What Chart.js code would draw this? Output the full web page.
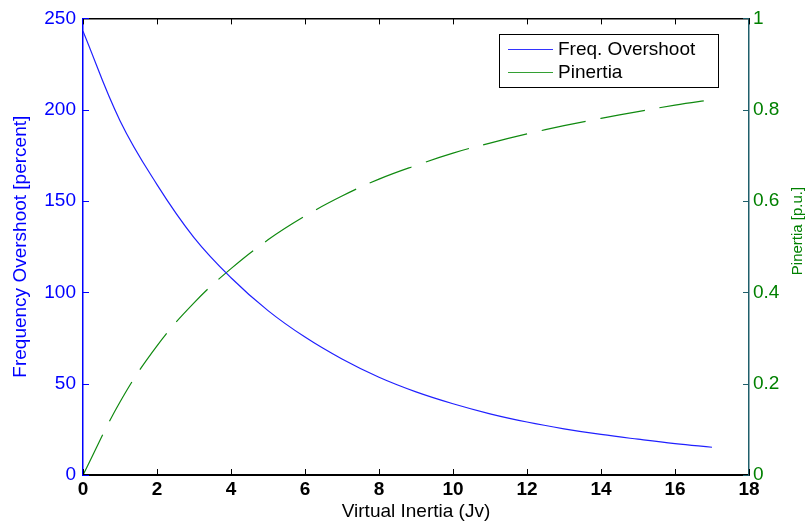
<!DOCTYPE html>
<html>
<head>
<meta charset="utf-8">
<script src="https://cdn.jsdelivr.net/npm/chart.js@4.4.1/dist/chart.umd.min.js"></script>
<style>
  html, body { margin: 0; padding: 0; background: #fff; }
  #wrap { width: 807px; height: 525px; }
</style>
</head>
<body>
<div id="wrap"><canvas id="jvChart"></canvas></div>
<script>
// values
const inertiaJv = [0, 1, 2, 3, 4, 5, 6, 7, 8, 9, 10, 11, 12, 13, 14, 15, 16, 17];
const freqOvershoot = [243, 194, 159, 130, 108, 90, 75.5, 63.5, 53.5, 45.5, 39, 33.5, 29, 25.3, 22.2, 19.6, 17.2, 15.2];
const pInertia = [0, 0.16, 0.283, 0.377, 0.452, 0.515, 0.567, 0.611, 0.648, 0.678, 0.705, 0.727, 0.747, 0.765, 0.781, 0.796, 0.81, 0.822];

const xTicks = ['0', '2', '4', '6', '8', '10', '12', '14', '16', '18'];
const leftTicks = ['0', '50', '100', '150', '200', '250'];
const rightTicks = ['0', '0.2', '0.4', '0.6', '0.8', '1'];
const rightTitle = 'Pinertia [p.u.]';

const FONT = "'Liberation Sans', Arial, sans-serif";
const BLUE = '#0000ff';
const GREEN = '#008000';
const TEAL = '#1f5f6b';

// MATLAB style ticks pointing into the plot
const innerTicks = {
    id: 'innerTicks',
    afterDatasetsDraw(chart) {
        const ctx = chart.ctx;
        const a = chart.chartArea;
        const len = 6;
        ctx.save();
        ctx.lineWidth = 1;
        const xs = chart.scales.x;
        ctx.strokeStyle = '#000';
        xs.ticks.forEach(t => {
            const px = Math.round(xs.getPixelForValue(t.value)) + 0.5;
            ctx.beginPath();
            ctx.moveTo(px, a.bottom); ctx.lineTo(px, a.bottom - len);
            ctx.moveTo(px, a.top); ctx.lineTo(px, a.top + len);
            ctx.stroke();
        });
        const ys = chart.scales.y;
        ctx.strokeStyle = BLUE;
        ys.ticks.forEach(t => {
            const py = Math.round(ys.getPixelForValue(t.value)) + 0.5;
            ctx.beginPath();
            ctx.moveTo(a.left, py); ctx.lineTo(a.left + len, py);
            ctx.stroke();
        });
        const y1 = chart.scales.y1;
        ctx.strokeStyle = TEAL;
        y1.ticks.forEach(t => {
            const py = Math.round(y1.getPixelForValue(t.value)) + 0.5;
            ctx.beginPath();
            ctx.moveTo(a.right, py); ctx.lineTo(a.right - len, py);
            ctx.stroke();
        });
        ctx.restore();
    }
};

// right axis title reads bottom-to-top like the left one
const rightAxisTitle = {
    id: 'rightAxisTitle',
    afterDraw(chart) {
        const ctx = chart.ctx;
        ctx.save();
        ctx.translate(798, 231);
        ctx.rotate(-Math.PI / 2);
        ctx.font = '15px ' + FONT;
        ctx.fillStyle = GREEN;
        ctx.textAlign = 'center';
        ctx.textBaseline = 'middle';
        ctx.fillText(rightTitle, 0, 0);
        ctx.restore();
    }
};

// boxed legend inside the plot, top right
const boxLegend = {
    id: 'boxLegend',
    afterDraw(chart) {
        const ctx = chart.ctx;
        const bx = 499, by = 34, bw = 219, bh = 53;
        ctx.save();
        ctx.fillStyle = '#fff';
        ctx.fillRect(bx, by, bw, bh);
        ctx.strokeStyle = '#000';
        ctx.lineWidth = 1;
        ctx.strokeRect(bx + 0.5, by + 0.5, bw, bh);
        ctx.font = '19px ' + FONT;
        ctx.textBaseline = 'middle';
        ctx.fillStyle = '#000';
        const rows = [49, 72];
        const sample = ['#3333ff', '#33a033'];
        chart.data.datasets.forEach((ds, i) => {
            const y = rows[i] + 0.5;
            ctx.strokeStyle = sample[i];
            ctx.beginPath();
            ctx.moveTo(508, y); ctx.lineTo(553, y);
            ctx.stroke();
            ctx.fillText(ds.label, 558, rows[i] + 1);
        });
        ctx.restore();
    }
};

const ctx = document.getElementById('jvChart').getContext('2d');
new Chart(ctx, {
    type: 'line',
    data: {
        datasets: [{
            label: 'Freq. Overshoot',
            data: inertiaJv.map((x, i) => ({x: x, y: freqOvershoot[i]})),
            borderColor: '#2020ff',
            borderWidth: 1.2,
            pointRadius: 0,
            tension: 0.4,
            yAxisID: 'y'
        }, {
            label: 'Pinertia',
            data: inertiaJv.map((x, i) => ({x: x, y: pInertia[i]})),
            borderColor: '#108a10',
            borderWidth: 1.2,
            borderDash: [45, 15],
            pointRadius: 0,
            tension: 0.4,
            yAxisID: 'y1'
        }]
    },
    options: {
        responsive: true,
        maintainAspectRatio: false,
        animation: false,
        layout: { padding: 0 },
        plugins: {
            legend: { display: false },
            tooltip: { enabled: false }
        },
        scales: {
            x: {
                type: 'linear',
                position: 'bottom',
                min: 0,
                max: 18,
                afterFit: s => { s.height = 50; },
                grid: { display: false, drawTicks: false },
                border: { display: true, color: '#000', width: 2 },
                ticks: {
                    stepSize: 2,
                    padding: 3,
                    color: '#000',
                    font: { family: FONT, size: 19, weight: 'bold' },
                    callback: (v, i) => xTicks[i]
                },
                title: {
                    display: true,
                    text: 'Virtual Inertia (Jv)',
                    color: '#000',
                    font: { family: FONT, size: 19 },
                    padding: { top: 0, bottom: 2 }
                }
            },
            x2: {
                type: 'linear',
                position: 'top',
                min: 0,
                max: 18,
                afterFit: s => { s.height = 16; },
                grid: { display: false, drawTicks: false },
                border: { display: true, color: '#000', width: 1.5 },
                ticks: { display: false }
            },
            y: {
                type: 'linear',
                position: 'left',
                min: 0,
                max: 250,
                afterFit: s => { s.width = 83; },
                grid: { display: false, drawTicks: false },
                border: { display: true, color: BLUE, width: 1.5 },
                ticks: {
                    stepSize: 50,
                    padding: 7,
                    color: BLUE,
                    font: { family: FONT, size: 19 },
                    callback: (v, i) => leftTicks[i]
                },
                title: {
                    display: true,
                    text: 'Frequency Overshoot [percent]',
                    color: BLUE,
                    font: { family: FONT, size: 19 },
                    padding: { top: 9, bottom: 0 }
                }
            },
            y1: {
                type: 'linear',
                position: 'right',
                min: 0,
                max: 1,
                afterFit: s => { s.width = 58; },
                grid: { display: false, drawTicks: false },
                border: { display: true, color: TEAL, width: 1.5 },
                ticks: {
                    stepSize: 0.2,
                    padding: 4,
                    color: GREEN,
                    font: { family: FONT, size: 19 },
                    callback: (v, i) => rightTicks[i]
                },
                title: { display: false }
            }
        }
    },
    plugins: [innerTicks, rightAxisTitle, boxLegend]
});
</script>
</body>
</html>
